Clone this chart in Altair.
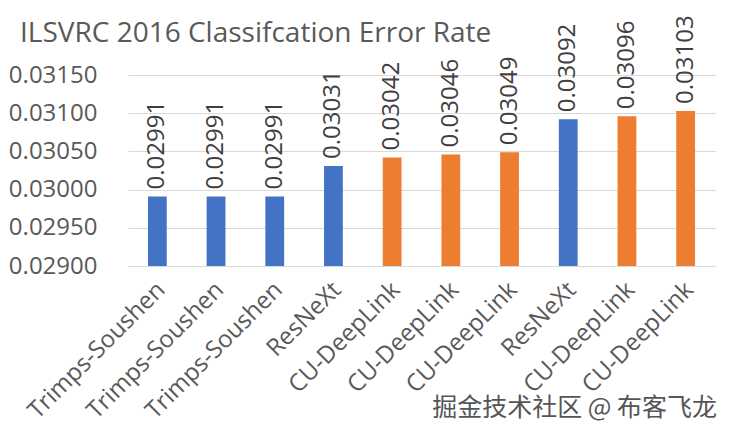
import json
import altair as alt
import pandas as pd

teams = ["Trimps-Soushen", "Trimps-Soushen", "Trimps-Soushen", "ResNeXt",
         "CU-DeepLink", "CU-DeepLink", "CU-DeepLink", "ResNeXt",
         "CU-DeepLink", "CU-DeepLink"]
errors = [0.02991, 0.02991, 0.02991, 0.03031, 0.03042, 0.03046, 0.03049,
          0.03092, 0.03096, 0.03103]
y_ticks = [0.0290, 0.0295, 0.0300, 0.0305, 0.0310, 0.0315]
title_text = "ILSVRC 2016 Classifcation Error Rate"
watermark = "掘金技术社区 @ 布客飞龙"

df = pd.DataFrame({
    "idx": list(range(len(teams))),
    "team": teams,
    "err": errors,
    "grp": ["orange" if t == "CU-DeepLink" else "blue" for t in teams],
})

FONT = "Open Sans"
label_expr = json.dumps(teams) + "[datum.value]"

xscale = alt.Scale(paddingInner=0.68, paddingOuter=0.34)
yscale = alt.Scale(domain=[0.029, 0.0315], zero=False, nice=False)

x_axis = alt.Axis(labelExpr=label_expr, labelAngle=-45, labelAlign="right",
                  labelBaseline="middle", labelPadding=20, labelOffset=4)
y_axis = alt.Axis(values=y_ticks, format=".5f", grid=True)

bars = alt.Chart(df).mark_bar().encode(
    x=alt.X("idx:O", title=None, scale=xscale, axis=x_axis),
    y=alt.Y("err:Q", scale=yscale, title=None, axis=y_axis),
    y2=alt.datum(0.029),
    color=alt.Color("grp:N", scale=alt.Scale(domain=["blue", "orange"],
                                              range=["#4472C4", "#ED7D31"]), legend=None),
)

labels = alt.Chart(df).mark_text(angle=270, align="left", baseline="middle", dx=7,
                                 fontSize=24, font=FONT, color="#404040").encode(
    x=alt.X("idx:O", title=None, scale=xscale, axis=x_axis),
    y=alt.Y("err:Q", scale=yscale, title=None, axis=y_axis),
    text=alt.Text("err:Q", format=".5f"),
)

title_df = pd.DataFrame({"t": [title_text]})
title = alt.Chart(title_df).mark_text(align="left", baseline="alphabetic", fontSize=28,
                                      font=FONT, color="#595959").encode(
    x=alt.value(-108), y=alt.value(-33), text="t:N")

wm_df = pd.DataFrame({"t": [watermark]})
wm_halo = alt.Chart(wm_df).mark_text(align="right", baseline="alphabetic", fontSize=25,
                                     font="Noto Sans CJK SC", stroke="#FFFFFF", strokeWidth=4,
                                     fill="white").encode(
    x=alt.value(589), y=alt.value(341), text="t:N")
wm = alt.Chart(wm_df).mark_text(align="right", baseline="alphabetic", fontSize=25,
                                font="Noto Sans CJK SC", color="#555555").encode(
    x=alt.value(589), y=alt.value(341), text="t:N")

chart = alt.layer(bars, labels, title, wm_halo, wm).properties(
    width=587, height=191,
    autosize=alt.AutoSizeParams(type="none"),
    padding={"left": 120, "top": 67, "right": 7, "bottom": 165},
).configure(
    background="white",
    view=alt.ViewConfig(stroke=None),
    axisX=alt.AxisConfig(labelFontSize=24, labelFont=FONT, labelColor="#595959",
                         ticks=False, domainColor="#D9D9D9", labelOverlap=False,
                         labelBound=False, labelLimit=0, grid=False),
    axisY=alt.AxisConfig(labelFontSize=24, labelFont=FONT, labelColor="#595959",
                         labelPadding=31, labelOverlap=False, labelBound=False,
                         labelFlush=False, ticks=False, domain=False,
                         gridColor="#D9D9D9"),
)

chart.save("out.html", embed_options={"renderer": "svg", "actions": False})
